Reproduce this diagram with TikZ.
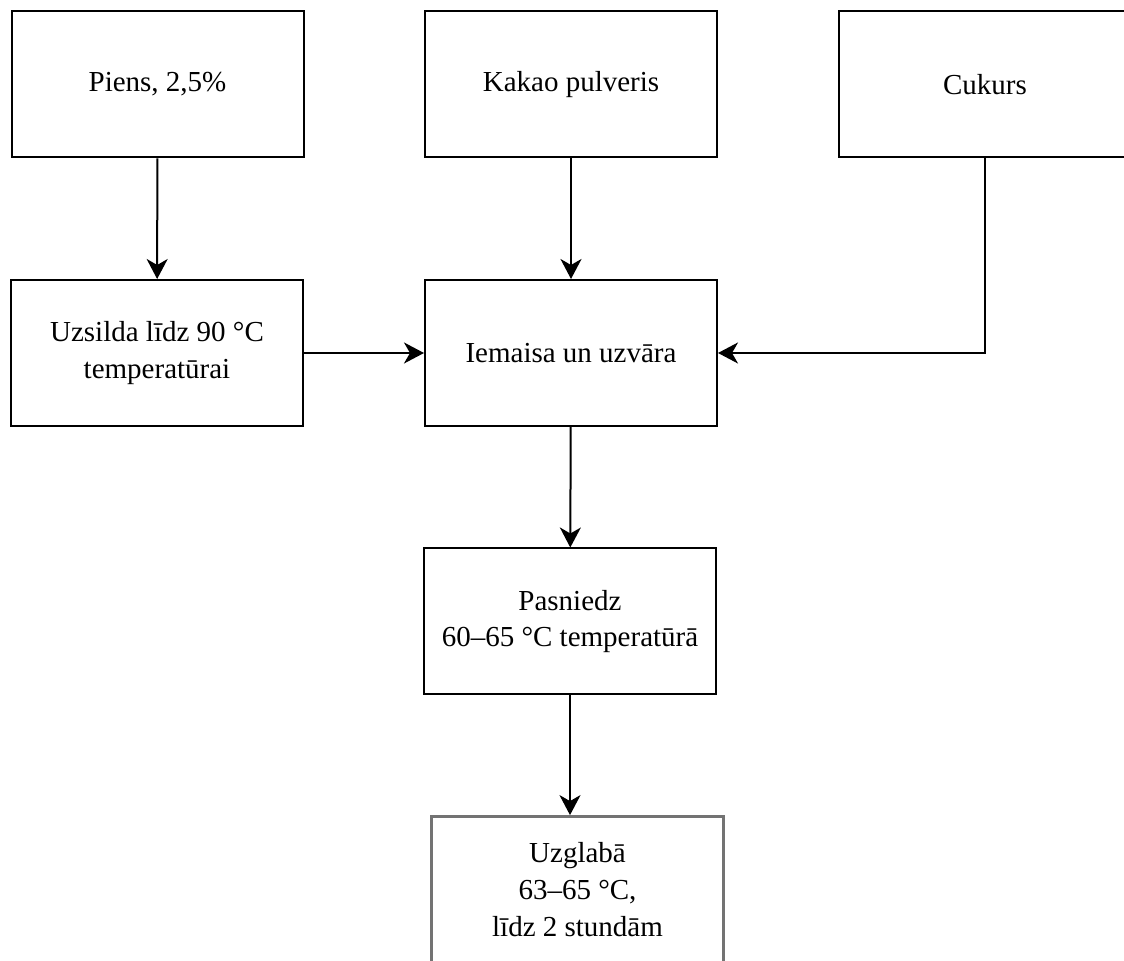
\documentclass[tikz,border=0pt]{standalone}
\usepackage{fontspec}
\setmainfont{Liberation Serif}
\usetikzlibrary{arrows.meta}
\tikzset{
  box/.style={draw=black, line width=1pt, fill=white, align=center,
    minimum width=146pt, minimum height=73pt, inner sep=2pt,
    font=\fontsize{14.5}{18.3}\selectfont},
  graybox/.style={box, draw=black!55, line width=1.4pt},
  conn/.style={line width=1pt, -{Stealth[length=10pt,width=10.5pt,inset=3pt]}}
}
\begin{document}
\begin{tikzpicture}[x=0.5pt,y=-0.5pt]
\useasboundingbox (0,0) rectangle (1124,961);
\clip (0,0) rectangle (1124,961);
\node[box] (milk) at (157.5,84.5) {Piens, 2,5\%};
\node[box] (cocoa) at (571,84.5) {Kakao pulveris};
\node[box] (sugar) at (985,84.5) {Cukurs};
\node[box] (heat) at (157,353) {Uzsilda līdz 90 °C\\temperatūrai};
\node[box] (mix) at (571,353) {Iemaisa un uzvāra};
\node[box] (serve) at (570,621.5) {Pasniedz\\60–65 °C temperatūrā};
\node[graybox] (store) at (577.5,889.5) {Uzglabā\\63–65 °C,\\līdz 2 stundām};
\draw[conn] (milk) -- (heat);
\draw[conn] (cocoa) -- (mix);
\draw[conn] (sugar.south) |- (mix.east);
\draw[conn] (heat) -- (mix);
\draw[conn] (mix) -- (serve);
\draw[conn] (serve.south) -- (serve.south |- store.north);
\end{tikzpicture}
\end{document}
